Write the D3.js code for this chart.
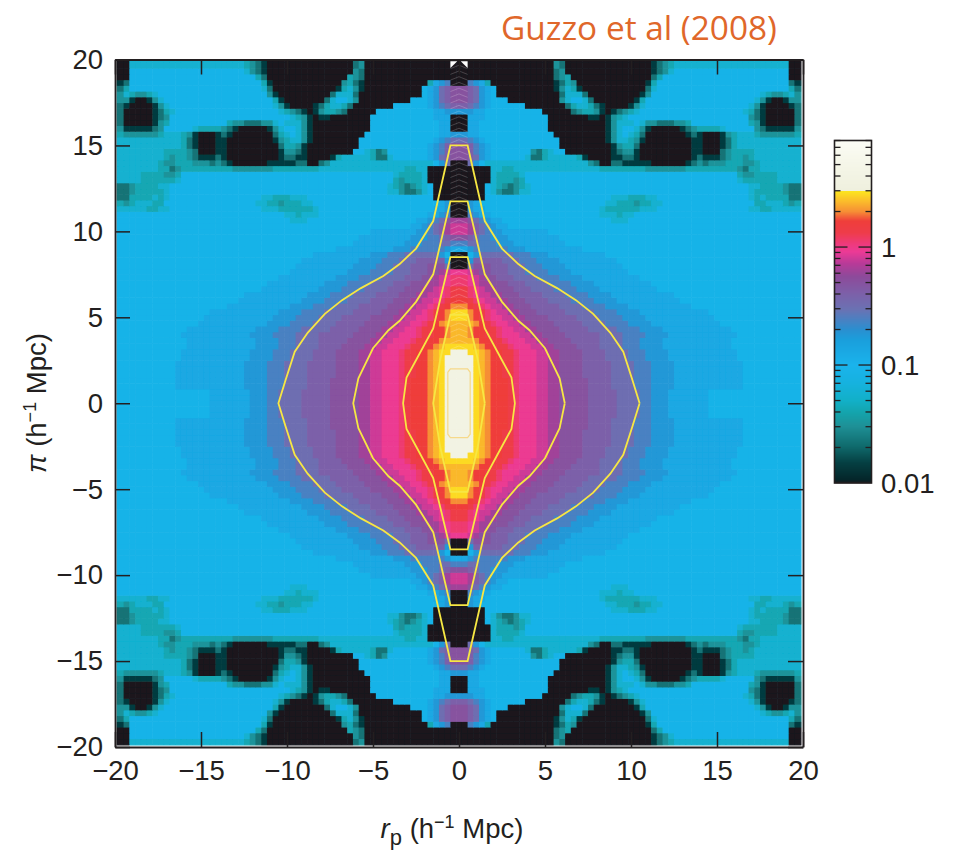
<!DOCTYPE html>
<html>
<head>
<meta charset="utf-8">
<script src="https://cdn.jsdelivr.net/npm/d3@7"></script>
<style>
html, body { margin:0; padding:0; background:#fff; }
text { font-family:"Liberation Sans", Arial, sans-serif; fill:#231f20; }
</style>
</head>
<body>
<div id="main"></div>
<script>
const w = 966;
const h = 856;

// log10 of the value behind each letter used in the rows below
const levelKeys = "#0123456789abcdefghijkl".split("");
const levelLogs = [-2, -1.85, -1.65, -1.5, -1.38, -1.25, -1.05, -0.88, -0.75, -0.62, -0.5, -0.4, -0.3, -0.2, -0.1, -0.03, 0.05, 0.14, 0.22, 0.3, 0.38, 0.45, 0.6];

// colour bar
const stopLogs = [-2, -1.97, -1.83, -1.69, -1.52, -1.41, -1.3, -1.15, -1, -0.79, -0.7, -0.53, -0.39, -0.25, -0.14, -0.04, 0.03, 0.12, 0.22, 0.3, 0.39, 0.475, 0.478, 0.7, 0.9];
const stopColors = ["#1a191d", "#04262a", "#053f42", "#0f6a6c", "#1e9096", "#14a3ab", "#12b0c8", "#16b2df", "#1ab3ec", "#1a9fdc", "#2a8fd0", "#6a72b3", "#7d5fa8", "#8d4a9a", "#b83a98", "#ec3a96", "#ee3a7a", "#ee3c4a", "#ef3e3a", "#f68e35", "#fbbd2b", "#fce61f", "#eff0de", "#f5f6e8", "#fbfcf5"];

// upper right quarter of the map, rows from pi=20 down to pi=0, 3 cells per unit
// each token: level letter then how many cells (no number = 1)
const quarterRows = [
"#17 2 1 #15 0 1 2 3 420 #2",
"#17 1 2 #15 0 1 2 4 520 #2",
"#17 1 2 3 #14 1 3 522 #2",
"#2 8 7 6 3 #11 0 1 3 2 #12 0 3 523 1 0",
"b2 a 9 7 6 5 #10 0 2 4 3 0 #11 1 4 523 3 1",
"b2 a 9 7 6 5 #11 1 4 4 4 1 #9 0 2 519 4 3 2 2 3 4 2",
"b2 a 9 7 6 5 5 5 #9 2 4 5 5 4 1 #7 0 3 519 4 2 0 #2 0 2 2",
"a2 9 8 7 6 56 #7 1 3 4 4 3 1 0 #4 0 2 4 518 4 2 0 #4 0 1",
"72 7 6 6 510 #5 1 2 3 3 2 0 # 0 1 2 3 4 518 4 3 1 0 #5 1",
"#2 6 6 6 511 #7 0 0 # 0 2 3 4 521 2 1 0 #5 1",
"#2 6 6 512 #10 0 2 4 4 4 5 4 2 2 1 1 1 2 2 3 510 3 2 0 #5 1",
"#2 6 6 512 #10 0 2 4 5 5 4 2 0 #5 0 1 2 3 3 3 3 4 55 2 1 05 2",
"72 6 6 513 #9 0 2 4 5 4 3 1 #7 0 1 0 #3 0 2 3 4 4 4 3 2 2 2 2 2 2 3",
"92 8 7 6 513 #8 0 2 4 4 3 2 0 #8 0 0 #3 0 1 3 411",
"b2 a 8 7 6 512 #9 0 2 3 3 1 #9 0 0 #3 0 1 3 411",
"b2 a 8 7 6 57 2 1 3 4 5 5 #8 0 1 2 2 0 #9 0 0 #3 1 2 3 3 3 3 48",
"b2 a 9 7 6 56 4 1 1 3 45 3 0 #4 0 0 1 1 0 #9 0 1 0 0 0 1 2 3 3 2 3 48",
"#2 9 7 5 418 2 1 #2 1 1 0 0 0 0 0 #6 0 1 2 1 2 2 2 3 3 3 2 2 3 47",
"#6 4 4 3 3 415 38 27 39 2 1 3 3 47",
"#6 4 3 3 3 3 4 537 3 2 2 3 3 3 3 44",
"#6 4 3 3 3 2 3 537 4 3 3 3 3 3 3 44",
"#5 5 4 3 2 1 2 3 4 538 4 4 3 3 3 3 2 1 1",
"#5 5 4 2 1 1 2 4 4 538 4 3 3 3 3 3 2 1 1",
"#5 522 4 4 4 3 3 3 4 4 516 4 3 4 3 3 3 3 1 1",
"#2 7 6 5 521 4 4 3 3 3 2 3 3 4 4 516 3 3 4 4 4 3 2 3",
"#2 7 6 6 520 4 3 3 3 3 3 3 4 4 4 516 4 4 3 3 4 4 4 4 4",
"#2 8 7 6 6 519 4 4 4 3 4 4 529",
"c2 b 9 8 7 6 6 519 4 4 4 530",
"d2 c a 9 8 7 6 6 551",
"d2 c a 9 8 7 7 68 544",
"b2 a 9 8 8 7 7 7 69 542",
"82 92 83 73 69 541",
"62 7 86 73 610 538",
"#2 5 7 96 83 73 610 534",
"#2 7 a5 93 83 74 610 532",
"#2 9 b3 a3 93 83 74 610 531",
"e2 d c b2 a3 93 84 74 610 530",
"f2 e d c b2 a3 94 84 74 610 528",
"f2 e d c2 b3 a3 94 84 74 610 526",
"g2 f e d c2 b3 a3 94 84 74 610 525",
"g2 f e d2 c2 b3 a4 94 84 74 611 522",
"h2 g f e d2 c2 b3 a4 94 84 74 611 521",
"i2 h g f e d2 c2 b3 a5 94 84 74 611 519",
"k2 i h g f e d2 c2 b3 a5 95 84 74 612 516",
"k2 i h g f e2 d2 c2 b4 a5 94 84 74 612 515",
"j2 j i h g f e2 d2 c2 b4 a5 94 84 74 612 514",
"j2 i h2 g2 f e2 d2 c2 b4 a5 95 84 74 612 512",
"j2 i h2 g2 f e3 d2 c2 b4 a6 94 84 74 612 511",
"j2 j i h2 g2 f e3 d2 c2 b4 a5 94 83 74 612 512",
"k2 k j i h2 g2 f e3 d2 c2 b4 a4 94 83 74 612 512",
"l2 k k j i h2 g2 f e3 d2 c2 b4 a4 94 83 74 612 511",
"l3 k j i h2 g2 f e3 d2 c2 b4 a4 94 83 74 612 511",
"l3 k j i h2 g2 f e3 d2 c2 b4 a5 94 83 74 612 510",
"l3 k j i h2 g2 f e3 d2 c2 b4 a5 94 83 74 612 510",
"l3 k j i h2 g2 f e3 d2 c2 b4 a5 94 83 74 612 510",
"l3 k j i h3 g f e3 d2 c2 b5 a4 94 83 74 612 510",
"l3 k j i h3 g f e3 d2 c2 b5 a4 94 83 74 612 510",
"l3 k j i h3 g f e3 d2 c2 b5 a5 94 82 73 67 516",
"l3 k j i h3 g f e3 d2 c2 b5 a5 94 82 73 67 516",
"l3 k j i h3 g f e3 d2 c2 b5 a5 94 82 73 67 516",
"l3 k j i h3 g f e3 d2 c2 b5 a5 94 82 73 67 516"
];

// yellow contours, right half of the top half: [rp, pi]
const contourOuter = [[0, 15], [0.5, 15], [1.5, 10.6], [2.5, 9], [3.45, 8.1], [4.4, 7.4], [5.7, 6.7], [6.8, 6], [7.8, 5.2], [8.8, 4.1], [9.55, 3], [10.1, 1.3], [10.5, 0]];
const contourSecond = [[0, 11.75], [0.5, 11.75], [1.5, 7.5], [2.5, 5.9], [3.45, 4.8], [4.1, 4.25], [5, 3.2], [5.85, 1.45], [6.15, 0]];
const contourThird = [[0, 8.5], [0.5, 8.5], [1.5, 4.35], [2.5, 2.5], [3.05, 1.5], [3.25, 0]];
const contourFourth = [[0, 5.15], [0.5, 5.15], [1.1, 2.5], [1.5, 0]];
const contourInner = [[0, 2], [0.5, 2], [0.65, 1.8], [0.65, 0]];

const axisTicks = [-20, -15, -10, -5, 0, 5, 10, 15, 20];
const barMajor = [0.1, 1];
const barMinor = [0.02, 0.03, 0.04, 0.05, 0.06, 0.07, 0.08, 0.09, 0.2, 0.3, 0.4, 0.5, 0.6, 0.7, 0.8, 0.9, 2, 3, 4, 5, 6, 7, 8];
const barLabels = [0.01, 0.1, 1];

const plotL = 115, plotR = 803, plotT = 59.5, plotB = 747;

const svg = d3.select("#main").append("svg")
  .attr("width", w)
  .attr("height", h)
  .style("display", "block");

const x = d3.scaleLinear().domain([-20, 20]).range([plotL, plotR]);
const y = d3.scaleLinear().domain([-20, 20]).range([plotB, plotT]);
const colorOf = d3.scaleLinear().domain(stopLogs).range(stopColors).clamp(true);

// unpack the tokens into a 60x60 table of log values
const quarter = quarterRows.map(function(row) {
  const cells = [];
  row.split(" ").forEach(function(tok) {
    const n = tok.length > 1 ? +tok.slice(1) : 1;
    for (let k = 0; k < n; k++) cells.push(levelLogs[levelKeys.indexOf(tok[0])]);
  });
  if (cells.length != 60) console.log("bad row", row, cells.length);
  return cells;
});

// the map is mirrored in both axes
const cells = [];
for (let r = -60; r <= 60; r++) {
  for (let i = -60; i <= 60; i++) {
    cells.push({
      i: i, r: r,
      v: quarter[59 - Math.min(Math.abs(r), 59)][Math.min(Math.abs(i), 59)]
    });
  }
}

const defs = svg.append("defs");
defs.append("clipPath").attr("id", "inside").append("rect")
  .attr("x", plotL + 1.5).attr("y", plotT + 1.5)
  .attr("width", plotR - plotL - 3).attr("height", plotB - plotT - 3);
defs.append("filter").attr("id", "soft")
  .attr("x", 0).attr("y", 0).attr("width", 1).attr("height", 1)
  .append("feGaussianBlur").attr("stdDeviation", 0.45);

const cellW = x(1 / 3) - x(0);
const map = svg.append("g").attr("clip-path", "url(#inside)").append("g").attr("filter", "url(#soft)");
map.selectAll("rect")
  .data(cells)
  .enter()
  .append("rect")
  .attr("x", d => x((d.i - 0.5) / 3))
  .attr("y", d => y((d.r + 0.5) / 3))
  .attr("width", cellW + 0.6)
  .attr("height", cellW + 0.6)
  .attr("fill", d => colorOf(d.v));

// chevron hatching in the centre column of the upper half
const chevronRows = d3.range(10, 60);
svg.append("g").attr("clip-path", "url(#inside)")
  .selectAll("path")
  .data(chevronRows)
  .enter()
  .append("path")
  .attr("d", d => d3.line()([[x(-0.5), y(d / 3 - 0.2)], [x(0), y(d / 3)], [x(0.5), y(d / 3 - 0.2)]]))
  .attr("fill", "none")
  .attr("stroke", "#fff")
  .attr("stroke-opacity", 0.28)
  .attr("stroke-width", 0.7);

const notches = [[[-0.5, 19.9], [-0.1, 19.9], [-0.5, 19.5]], [[0.5, 19.9], [0.1, 19.9], [0.5, 19.5]]];
svg.selectAll(".notch")
  .data(notches)
  .enter()
  .append("path")
  .attr("class", "notch")
  .attr("d", d => d3.line().x(p => x(p[0])).y(p => y(p[1]))(d) + "Z")
  .attr("fill", "#fff");

// contours, each mirrored into a closed loop
const contourLine = d3.line().x(p => x(p[0])).y(p => y(p[1]));
function closed(c) {
  const a = c.slice();
  const b = c.slice().reverse().map(p => [p[0], -p[1]]);
  const c2 = c.slice().reverse().map(p => [-p[0], p[1]]);
  const d2 = c.map(p => [-p[0], -p[1]]);
  return b.concat(d2).concat(c2).concat(a);
}
svg.append("g").selectAll("path")
  .data([contourOuter, contourSecond, contourThird, contourFourth])
  .enter()
  .append("path")
  .attr("d", d => contourLine(closed(d)))
  .attr("fill", "none")
  .attr("stroke", "#f7e743")
  .attr("stroke-width", 1.8);
svg.append("path")
  .attr("d", contourLine(closed(contourInner)))
  .attr("fill", "none")
  .attr("stroke", "#f6d98a")
  .attr("stroke-width", 1.2);

// axes, ticks point inwards
const tickLen = 15;
const fontSize = 27.5;
function styleAxis(g) {
  g.selectAll("path").attr("stroke", "#231f20").attr("stroke-width", 1.8);
  g.selectAll("line").attr("stroke", "#231f20").attr("stroke-width", 1.5);
  g.selectAll("text").style("font-size", fontSize + "px").style("font-family", "'Liberation Sans', Arial, sans-serif").attr("fill", "#231f20");
}

const bottomAxis = d3.axisBottom(x).tickValues(axisTicks).tickSizeInner(-tickLen).tickSizeOuter(0).tickPadding(13);
const leftAxis = d3.axisLeft(y).tickValues(axisTicks).tickSizeInner(-tickLen).tickSizeOuter(0).tickPadding(12);
const topAxis = d3.axisTop(x).tickValues(axisTicks).tickSizeInner(-tickLen).tickSizeOuter(0).tickFormat("");
const rightAxis = d3.axisRight(y).tickValues(axisTicks).tickSizeInner(-tickLen).tickSizeOuter(0).tickFormat("");

svg.append("g").attr("transform", "translate(0," + plotB + ")").call(bottomAxis).call(styleAxis);
svg.append("g").attr("transform", "translate(" + plotL + ",0)").call(leftAxis).call(styleAxis);
svg.append("g").attr("transform", "translate(0," + plotT + ")").call(topAxis).call(styleAxis);
svg.append("g").attr("transform", "translate(" + plotR + ",0)").call(rightAxis).call(styleAxis);

// axis titles
const xTitle = svg.append("text")
  .attr("x", 452).attr("y", 838)
  .attr("text-anchor", "middle")
  .style("font-size", fontSize + "px");
xTitle.append("tspan").style("font-style", "italic").text("r");
xTitle.append("tspan").attr("dy", 7).style("font-size", "22px").text("p");
xTitle.append("tspan").attr("dy", -7).text(" (h");
xTitle.append("tspan").attr("dy", -10).style("font-size", "18px").text("\u22121");
xTitle.append("tspan").attr("dy", 10).text(" Mpc)");

const yTitle = svg.append("text")
  .attr("transform", "translate(46,403) rotate(-90)")
  .attr("text-anchor", "middle")
  .style("font-size", fontSize + "px");
yTitle.append("tspan").style("font-style", "italic").text("\u03c0");
yTitle.append("tspan").text(" (h");
yTitle.append("tspan").attr("dy", -10).style("font-size", "18px").text("\u22121");
yTitle.append("tspan").attr("dy", 10).text(" Mpc)");

svg.append("text")
  .attr("x", 639).attr("y", 40)
  .attr("text-anchor", "middle")
  .style("font-family", "'Open Sans', sans-serif")
  .style("font-size", "33.4px")
  .style("fill", "#e0672a")
  .text("Guzzo et al (2008)");

// colour bar
const barLeft = 834.5, barRight = 871.5;
const barY = d3.scaleLog().domain([0.01, 8]).range([483, 140.5]);
const barSteps = d3.range(141, 483);
svg.append("g").selectAll("rect")
  .data(barSteps)
  .enter()
  .append("rect")
  .attr("x", barLeft)
  .attr("y", d => d)
  .attr("width", barRight - barLeft)
  .attr("height", 1.2)
  .attr("fill", d => colorOf(Math.log10(barY.invert(d + 0.5))));

svg.append("rect")
  .attr("x", barLeft).attr("y", 140.5)
  .attr("width", barRight - barLeft).attr("height", 342.5)
  .attr("fill", "none")
  .attr("stroke", "#231f20")
  .attr("stroke-width", 1.6);

function barTicks(vals, len) {
  const g = svg.append("g").attr("stroke", "#231f20").attr("stroke-width", 1.3);
  g.selectAll(".l").data(vals).enter().append("line")
    .attr("x1", barLeft).attr("x2", barLeft + len)
    .attr("y1", d => barY(d)).attr("y2", d => barY(d));
  g.selectAll(".r").data(vals).enter().append("line")
    .attr("x1", barRight).attr("x2", barRight - len)
    .attr("y1", d => barY(d)).attr("y2", d => barY(d));
}
barTicks(barMajor, 13);
barTicks(barMinor, 6);

svg.append("g").selectAll("text")
  .data(barLabels)
  .enter()
  .append("text")
  .attr("x", 881)
  .attr("y", d => barY(d) + 10)
  .style("font-size", fontSize + "px")
  .text(d => d);
</script>
</body>
</html>
